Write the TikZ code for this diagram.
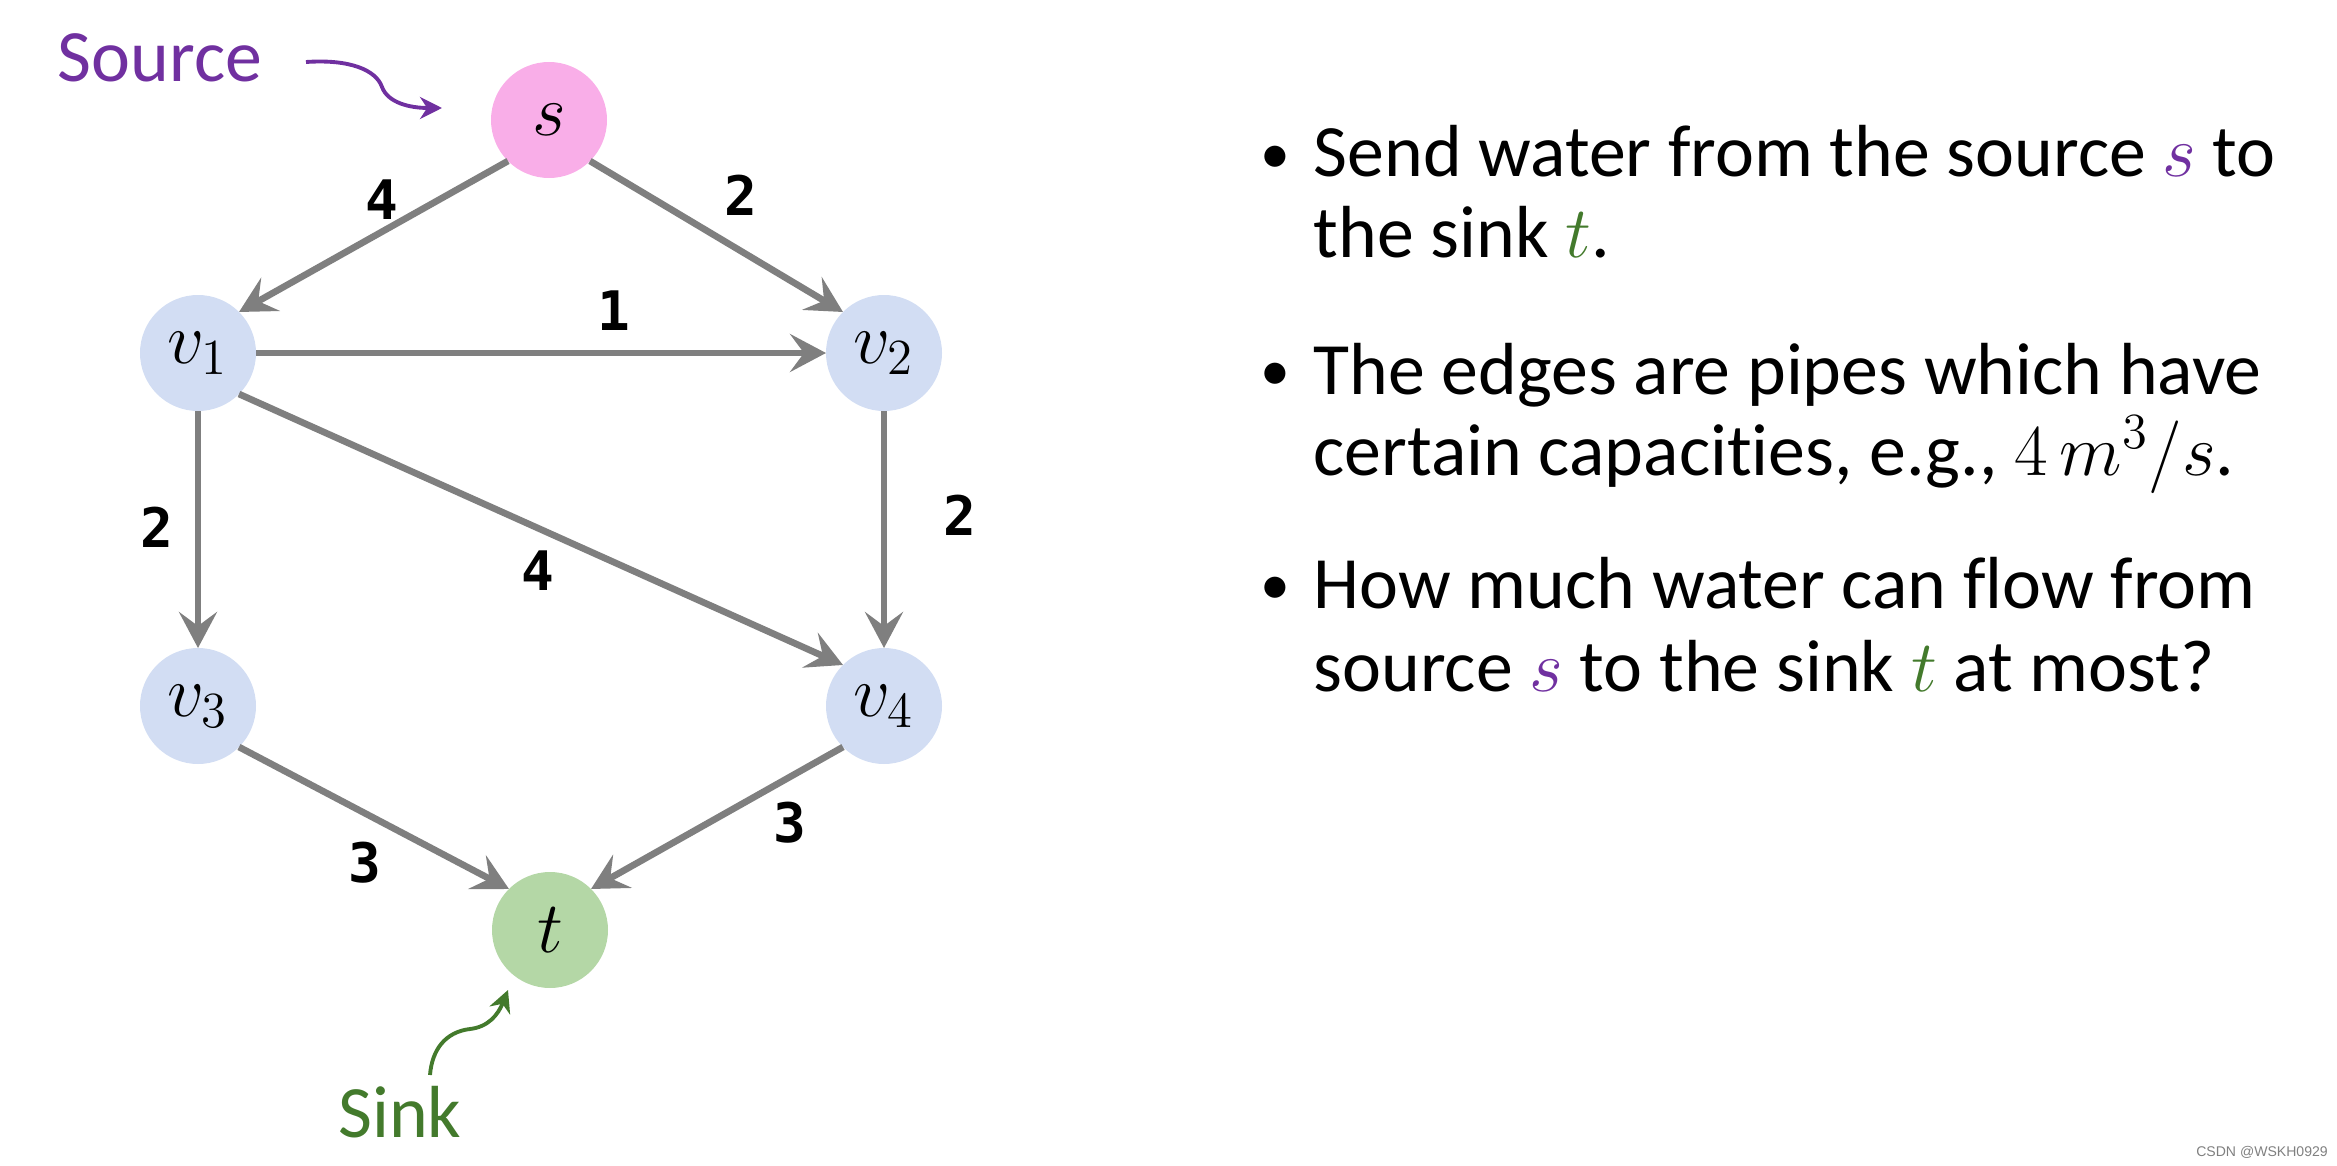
\documentclass[tikz,border=0pt]{standalone}
\usepackage{fontspec}
\setmainfont{Carlito}[Ligatures=NoCommon]
\newfontfamily\capfont{DejaVu Sans Mono}
\newfontfamily\markfont{Liberation Sans}
\usetikzlibrary{arrows.meta}
\definecolor{srcpink}{HTML}{F9AEE8}
\definecolor{vblue}{HTML}{D2DDF3}
\definecolor{sinkgreen}{HTML}{B4D7A6}
\definecolor{srcpurple}{HTML}{7030A0}
\definecolor{sinkdark}{HTML}{437A2C}
\definecolor{pipegray}{HTML}{7F7F7F}
\begin{document}
\begin{tikzpicture}[every node/.style={font=\fontsize{21}{25}\selectfont},
  vert/.style={circle, minimum size=11.6mm, inner sep=0pt, outer sep=0pt,
    font=\fontsize{22}{26}\selectfont},
  pipe/.style={draw=pipegray, line width=1.9pt,
    -{Stealth[length=3.6mm,width=3.8mm,inset=1.4mm]}},
  capnum/.style={font=\capfont\bfseries\fontsize{15.5}{18}\selectfont},
  txt/.style={anchor=base west, inner sep=0pt},
  note/.style={line width=1.1pt, -{Stealth[length=2.2mm,width=2.2mm]}}]
  \useasboundingbox (0,0) rectangle (23.37,11.65);
  % vertices
  \node[vert, fill=srcpink] (s) at (5.49,10.45) {$s$};
  \node[vert, fill=vblue] (v1) at (1.98,8.12) {$v_1$};
  \node[vert, fill=vblue] (v2) at (8.84,8.12) {$v_2$};
  \node[vert, fill=vblue] (v3) at (1.98,4.59) {$v_3$};
  \node[vert, fill=vblue] (v4) at (8.84,4.59) {$v_4$};
  \node[vert, fill=sinkgreen] (t) at (5.50,2.35) {$t$};
  % pipes
  \draw[pipe] (s.225) -- (v1.45);
  \draw[pipe] (s.-45) -- (v2.135);
  \draw[pipe] (v1) -- (v2);
  \draw[pipe] (v1) -- (v3);
  \draw[pipe] (v1.-45) -- (v4.135);
  \draw[pipe] (v2) -- (v4);
  \draw[pipe] (v3.-45) -- (t.135);
  \draw[pipe] (v4.225) -- (t.45);
  \foreach \n/\c/\xy in {a/4/{3.82,9.65}, b/2/{7.41,9.70}, c/1/{6.14,8.54},
      d/2/{1.57,6.38}, e/4/{5.38,5.94}, f/2/{9.60,6.50},
      g/3/{3.65,3.02}, h/3/{7.90,3.42}}
    \node[capnum] (c\n) at (\xy) {\c};
  % source and sink notes
  \node[anchor=base, text=srcpurple] (src) at (1.60,10.83) {Source};
  \coordinate (srcA) at (3.06,11.03); \coordinate (srcB) at (4.42,10.57);
  \draw[note, srcpurple] (srcA) .. controls (3.50,11.06) and (3.76,10.95) .. (3.82,10.78)
    .. controls (3.88,10.62) and (4.10,10.57) .. (srcB);
  \node[anchor=base, text=sinkdark] (snk) at (4.00,0.28) {Sink};
  \coordinate (snkA) at (4.30,0.90); \coordinate (snkB) at (5.08,1.75);
  \draw[note, sinkdark] (snkA) .. controls (4.32,1.15) and (4.45,1.33) .. (4.70,1.36)
    .. controls (4.88,1.38) and (4.98,1.50) .. (snkB);
  % bullets
  \node[txt] (b1a) at (13.13,9.88) {Send water from the source \textcolor{srcpurple}{$s$} to};
  \node[txt] (b1b) at (13.13,9.07) {the sink \textcolor{sinkdark}{$t$}.};
  \node[txt] (b2a) at (13.13,7.71) {The edges are pipes which have};
  \node[txt] (b2b) at (13.13,6.90) {certain capacities, e.g., $4\,m^3/s$.};
  \node[txt] (b3a) at (13.13,5.57) {How much water can flow from};
  \node[txt] (b3b) at (13.13,4.74) {source \textcolor{srcpurple}{$s$} to the sink \textcolor{sinkdark}{$t$} at most?};
  \foreach \b in {b1a,b2a,b3a}
    \node[anchor=base, inner sep=0pt, font=\fontsize{17}{20}\selectfont]
      (dot\b) at ([xshift=-3.8mm,yshift=0.4mm]\b.base west) {\textbullet};
  \node[font=\markfont\fontsize{4}{5}\selectfont, text=gray] (wm) at (22.62,0.13) {CSDN @WSKH0929};
\end{tikzpicture}
\end{document}
